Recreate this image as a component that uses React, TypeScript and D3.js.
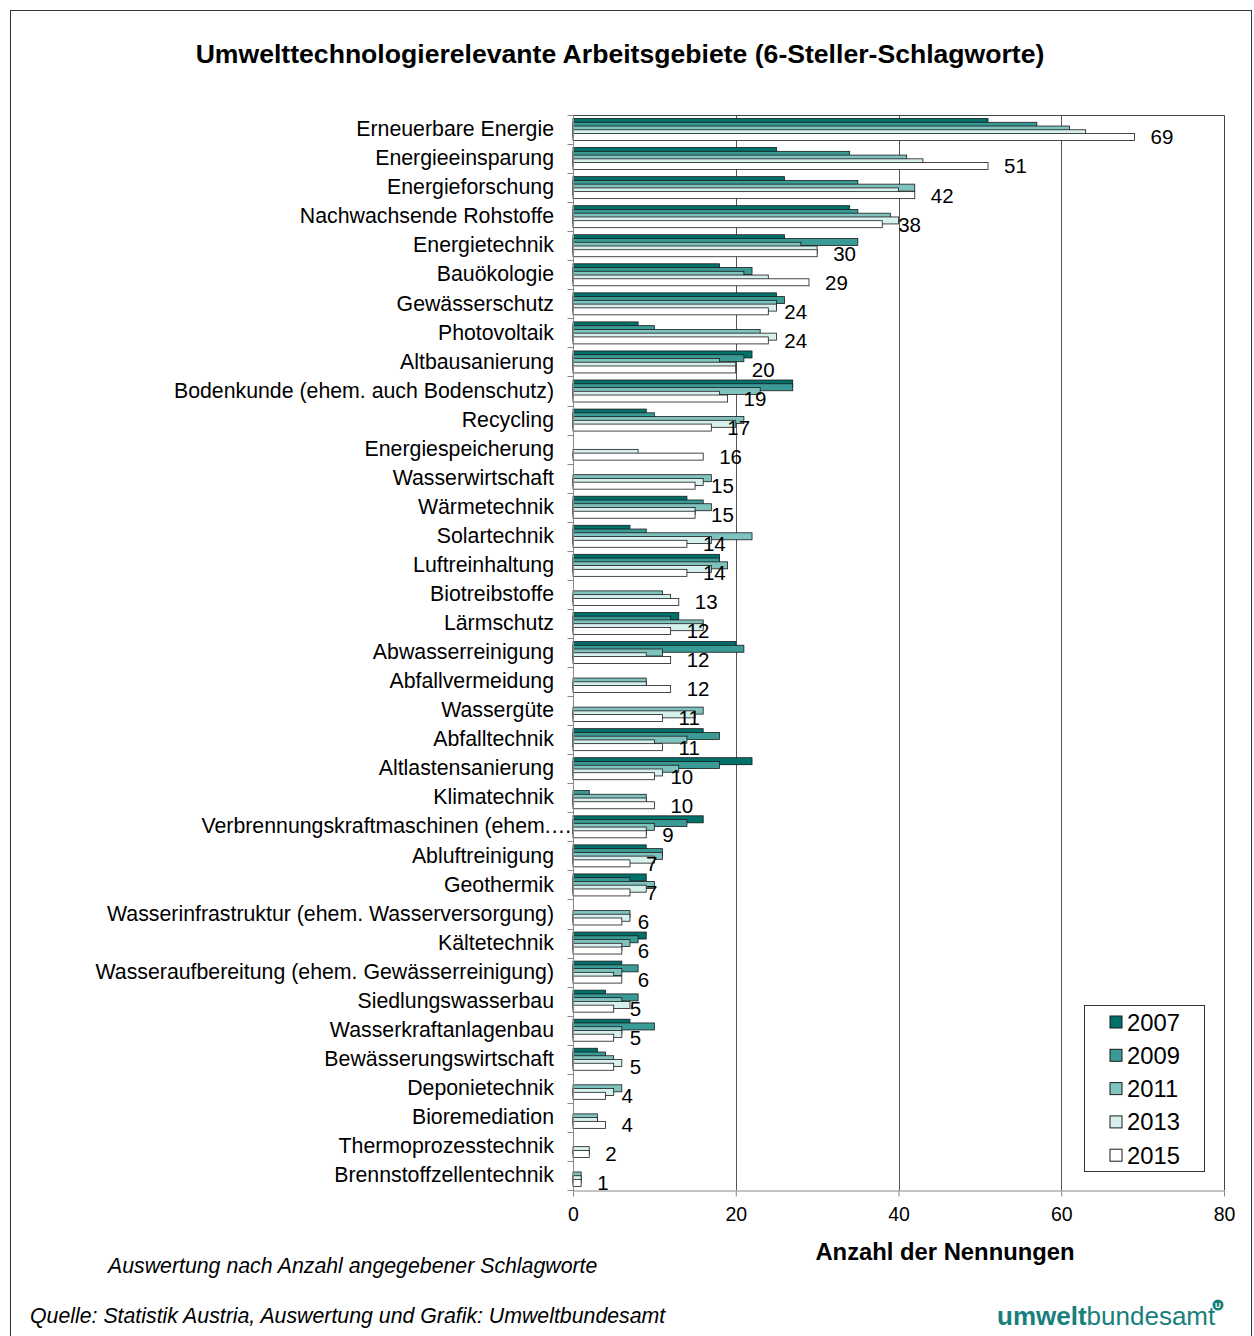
import React, { useEffect, useRef } from 'react';
import * as d3 from 'd3';

const categories = [
  'Erneuerbare Energie',
  'Energieeinsparung',
  'Energieforschung',
  'Nachwachsende Rohstoffe',
  'Energietechnik',
  'Bauökologie',
  'Gewässerschutz',
  'Photovoltaik',
  'Altbausanierung',
  'Bodenkunde (ehem. auch Bodenschutz)',
  'Recycling',
  'Energiespeicherung',
  'Wasserwirtschaft',
  'Wärmetechnik',
  'Solartechnik',
  'Luftreinhaltung',
  'Biotreibstoffe',
  'Lärmschutz',
  'Abwasserreinigung',
  'Abfallvermeidung',
  'Wassergüte',
  'Abfalltechnik',
  'Altlastensanierung',
  'Klimatechnik',
  'Verbrennungskraftmaschinen (ehem.…',
  'Abluftreinigung',
  'Geothermik',
  'Wasserinfrastruktur (ehem. Wasserversorgung)',
  'Kältetechnik',
  'Wasseraufbereitung (ehem. Gewässerreinigung)',
  'Siedlungswasserbau',
  'Wasserkraftanlagenbau',
  'Bewässerungswirtschaft',
  'Deponietechnik',
  'Bioremediation',
  'Thermoprozesstechnik',
  'Brennstoffzellentechnik',
];

const years = ['2007', '2009', '2011', '2013', '2015'];

const v2007 = [51, 25, 26, 34, 26, 18, 25, 8, 22, 27, 9, 0, 0, 14, 7, 18, 0, 13, 20, 0, 0, 16, 22, 0, 16, 9, 9, 0, 9, 6, 4, 7, 3, 0, 0, 0, 0];
const v2009 = [57, 34, 35, 35, 35, 22, 26, 10, 21, 27, 10, 0, 0, 16, 9, 18, 0, 12, 21, 0, 0, 18, 18, 2, 14, 11, 7, 0, 8, 8, 8, 10, 4, 0, 0, 0, 0];
const v2011 = [61, 41, 42, 39, 28, 21, 25, 23, 18, 23, 21, 0, 17, 17, 22, 19, 11, 16, 11, 9, 16, 14, 13, 9, 10, 11, 10, 7, 7, 6, 6, 6, 5, 6, 3, 0, 1];
const v2013 = [63, 43, 40, 40, 30, 24, 25, 25, 20, 18, 20, 8, 16, 15, 17, 17, 12, 16, 9, 9, 15, 10, 11, 9, 9, 10, 9, 7, 6, 5, 7, 6, 6, 5, 3, 2, 1];
const v2015 = [69, 51, 42, 38, 30, 29, 24, 24, 20, 19, 17, 16, 15, 15, 14, 14, 13, 12, 12, 12, 11, 11, 10, 10, 9, 7, 7, 6, 6, 6, 5, 5, 5, 4, 4, 2, 1];

const xTicks = [0, 20, 40, 60, 80];

const colors = ['#00706b', '#3a9b96', '#80c2be', '#d6f0ee', '#ffffff'];

const FONT = '"Liberation Sans", Arial, sans-serif';

const App = () => {
  const ref = useRef(null);

  useEffect(() => {
    const series = [v2007, v2009, v2011, v2013, v2015];
    const left = 573;
    const right = 1224;
    const top = 115;
    const bottom = 1190;

    d3.select(ref.current).selectAll('*').remove();

    const svg = d3
      .select(ref.current)
      .append('svg')
      .attr('width', 1254)
      .attr('height', 1336)
      .style('position', 'absolute')
      .style('left', '0px')
      .style('top', '0px')
      .style('font-family', FONT);

    svg.append('rect').attr('width', 1254).attr('height', 1336).attr('fill', '#fff');

    // outer frame
    svg
      .append('rect')
      .attr('x', 10.5)
      .attr('y', 10.5)
      .attr('width', 1241)
      .attr('height', 1340)
      .attr('fill', 'none')
      .attr('stroke', '#333')
      .attr('stroke-width', 1);

    svg
      .append('text')
      .attr('x', 620)
      .attr('y', 63)
      .attr('text-anchor', 'middle')
      .style('font-size', '26.6px')
      .style('font-weight', 'bold')
      .text('Umwelttechnologierelevante Arbeitsgebiete (6-Steller-Schlagworte)');

    const x = d3.scaleLinear().domain([0, 80]).range([left, right]);
    const y = d3.scaleBand().domain(categories).range([top, bottom]);
    const bw = y.bandwidth();
    const step = 3.75;
    const barH = 7;
    const offset = (bw - (step * 4 + barH)) / 2;

    // gridlines
    svg
      .selectAll('line.grid')
      .data([20, 40, 60])
      .enter()
      .append('line')
      .attr('class', 'grid')
      .attr('x1', d => Math.round(x(d)) + 0.5)
      .attr('x2', d => Math.round(x(d)) + 0.5)
      .attr('y1', top)
      .attr('y2', bottom)
      .attr('stroke', '#555')
      .attr('stroke-width', 1);

    // plot border (top / right)
    svg
      .append('path')
      .attr('d', `M${left},${top + 0.5}H${right + 0.5}V${bottom}`)
      .attr('fill', 'none')
      .attr('stroke', '#444')
      .attr('stroke-width', 1);

    // bars
    series.forEach((vals, si) => {
      svg
        .append('g')
        .selectAll('rect')
        .data(vals.map((v, i) => ({ v, c: categories[i] })).filter(d => d.v > 0))
        .enter()
        .append('rect')
        .attr('x', x(0))
        .attr('y', d => y(d.c)! + offset + si * step)
        .attr('width', d => x(d.v) - x(0))
        .attr('height', barH)
        .attr('fill', colors[si])
        .attr('stroke', '#1a1a1a')
        .attr('stroke-width', 0.8);
    });

    // value labels for 2015
    svg
      .append('g')
      .selectAll('text')
      .data(v2015.map((v, i) => ({ v, c: categories[i] })))
      .enter()
      .append('text')
      .attr('x', d => x(d.v) + 16)
      .attr('y', d => y(d.c)! + offset + 4 * step + barH / 2)
      .attr('dy', '0.36em')
      .style('font-size', '20.5px')
      .text(d => d.v);

    // y axis
    const yAxis = svg
      .append('g')
      .attr('transform', `translate(${left + 0.5},0)`);
    yAxis
      .append('line')
      .attr('y1', top)
      .attr('y2', bottom + 6)
      .attr('stroke', '#888');
    yAxis
      .selectAll('line.tick')
      .data(d3.range(categories.length + 1))
      .enter()
      .append('line')
      .attr('class', 'tick')
      .attr('x1', -6)
      .attr('x2', 0)
      .attr('y1', i => Math.round(top + i * bw) + 0.5)
      .attr('y2', i => Math.round(top + i * bw) + 0.5)
      .attr('stroke', '#888');

    // truncated label runs past the usual right edge, as in the original
    svg
      .append('g')
      .selectAll('text')
      .data(categories)
      .enter()
      .append('text')
      .attr('x', d => (d.endsWith('…') ? 572 : 554))
      .attr('y', d => y(d)! + bw / 2 - 1)
      .attr('dy', '0.36em')
      .attr('text-anchor', 'end')
      .style('font-size', '21.3px')
      .text(d => d);

    // x axis
    const xAxis = svg
      .append('g')
      .attr('transform', `translate(0,${bottom + 0.5})`)
      .call(d3.axisBottom(x).tickValues(xTicks).tickSize(6).tickSizeOuter(0));
    xAxis.select('.domain').attr('stroke', '#888');
    xAxis.selectAll('.tick line').attr('stroke', '#888');
    xAxis
      .selectAll('.tick text')
      .attr('y', 17)
      .attr('fill', '#000')
      .style('font-size', '19.5px')
      .style('font-family', FONT);

    svg
      .append('text')
      .attr('x', 945)
      .attr('y', 1260)
      .attr('text-anchor', 'middle')
      .style('font-size', '23.8px')
      .style('font-weight', 'bold')
      .text('Anzahl der Nennungen');

    // legend
    const legend = svg.append('g');
    legend
      .append('rect')
      .attr('x', 1084.5)
      .attr('y', 1005.5)
      .attr('width', 120)
      .attr('height', 166)
      .attr('fill', '#fff')
      .attr('stroke', '#333');
    years.forEach((yr, i) => {
      const cy = 1022 + i * 33.3;
      legend
        .append('rect')
        .attr('x', 1110)
        .attr('y', cy - 6)
        .attr('width', 12)
        .attr('height', 12)
        .attr('fill', colors[i])
        .attr('stroke', '#1a1a1a');
      legend
        .append('text')
        .attr('x', 1127)
        .attr('y', cy)
        .attr('dy', '0.36em')
        .style('font-size', '23.8px')
        .text(yr);
    });

    svg
      .append('text')
      .attr('x', 108)
      .attr('y', 1273)
      .style('font-size', '21.3px')
      .style('font-style', 'italic')
      .text('Auswertung nach Anzahl angegebener Schlagworte');

    svg
      .append('text')
      .attr('x', 30)
      .attr('y', 1323)
      .style('font-size', '21.3px')
      .style('font-style', 'italic')
      .text('Quelle: Statistik Austria, Auswertung und Grafik: Umweltbundesamt');

    // logo
    const logo = svg
      .append('text')
      .attr('x', 997)
      .attr('y', 1325)
      .style('font-size', '26px')
      .attr('fill', '#17807a');
    logo.append('tspan').style('font-weight', 'bold').text('umwelt');
    logo.append('tspan').style('font-weight', '300').text('bundesamt');
    svg
      .append('circle')
      .attr('cx', 1218)
      .attr('cy', 1305)
      .attr('r', 5.5)
      .attr('fill', '#17807a');
    svg
      .append('text')
      .attr('x', 1218)
      .attr('y', 1305)
      .attr('dy', '0.35em')
      .attr('text-anchor', 'middle')
      .attr('fill', '#fff')
      .style('font-size', '8px')
      .style('font-weight', 'bold')
      .text('U');
  }, []);

  return <div ref={ref}></div>;
};

export default App;
